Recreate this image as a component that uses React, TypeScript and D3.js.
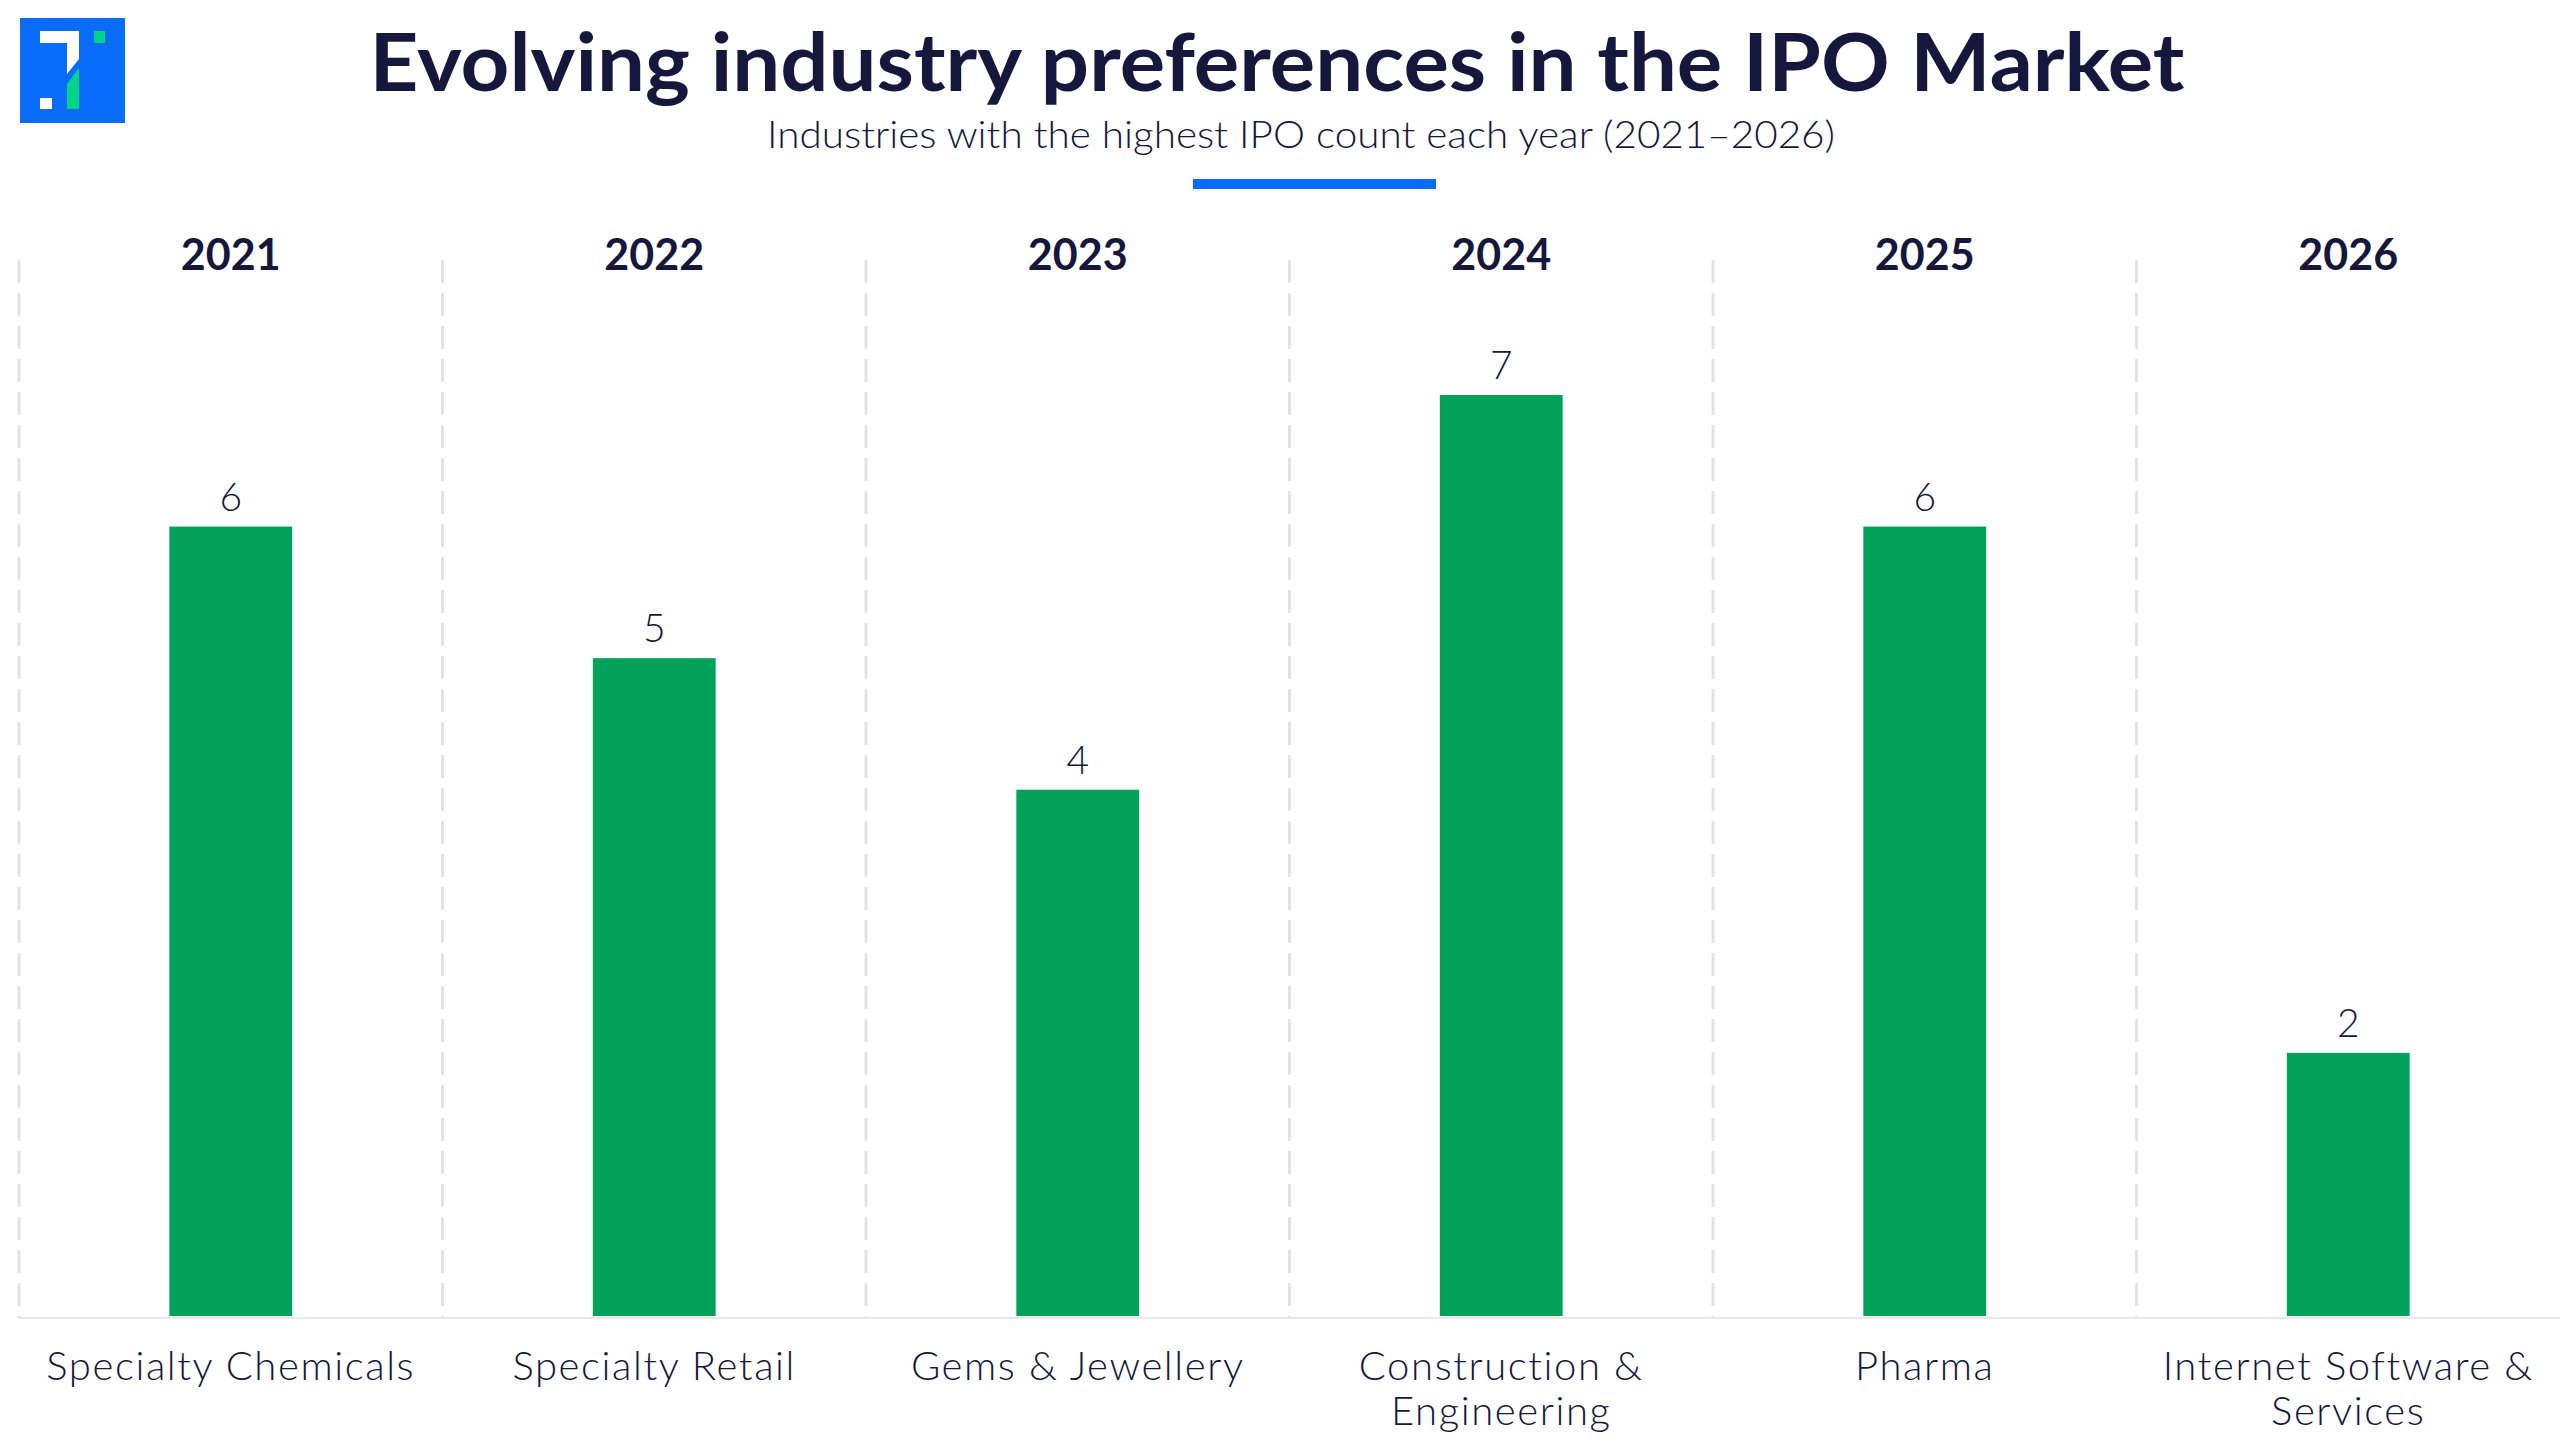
import React, { useEffect, useRef } from 'react';
import * as d3 from 'd3';

// chart data
const years = ['2021', '2022', '2023', '2024', '2025', '2026'];
const industries = [
  ['Specialty Chemicals'],
  ['Specialty Retail'],
  ['Gems & Jewellery'],
  ['Construction &', 'Engineering'],
  ['Pharma'],
  ['Internet Software &', 'Services'],
];
const ipoCounts = [6, 5, 4, 7, 6, 2];

const TITLE = 'Evolving industry preferences in the IPO Market';
const SUBTITLE = 'Industries with the highest IPO count each year (2021\u20132026)';

const NAVY = '#15173d';
const GREEN = '#02a25b';
const BLUE = '#0a6cfb';

export default function App() {
  const svgRef = useRef<SVGSVGElement>(null);

  useEffect(() => {
    if (!svgRef.current) return;
    const svg = d3.select(svgRef.current);
    svg.selectAll('*').remove();

    const W = 2560;
    const H = 1440;
    const baseY = 1316;

    svg.append('rect').attr('width', W).attr('height', H).attr('fill', '#fff');

    // logo
    const logo = svg.append('g');
    logo.append('rect').attr('x', 20).attr('y', 18).attr('width', 105).attr('height', 105).attr('fill', BLUE);
    logo.append('polygon').attr('points', '40,31 79,31 79,59 67,74 67,43 40,43').attr('fill', '#fff');
    logo.append('polygon').attr('points', '67,84 79,68 79,109 67,109').attr('fill', '#00d486');
    logo.append('rect').attr('x', 94).attr('y', 31).attr('width', 11).attr('height', 12).attr('fill', '#00d486');
    logo.append('rect').attr('x', 40).attr('y', 98).attr('width', 12).attr('height', 11).attr('fill', '#fff');

    // headings
    svg.append('text')
      .attr('x', 1277).attr('y', 91)
      .attr('text-anchor', 'middle')
      .attr('font-family', 'Lato, sans-serif')
      .attr('font-weight', 700)
      .attr('font-size', 80)
      .attr('fill', NAVY)
      .attr('textLength', 1815)
      .attr('lengthAdjust', 'spacingAndGlyphs')
      .text(TITLE);

    svg.append('text')
      .attr('x', 1301).attr('y', 148)
      .attr('text-anchor', 'middle')
      .attr('font-family', 'Lato, sans-serif')
      .attr('font-weight', 300)
      .attr('font-size', 37)
      .attr('fill', NAVY)
      .attr('textLength', 1068)
      .attr('lengthAdjust', 'spacingAndGlyphs')
      .text(SUBTITLE);

    svg.append('rect')
      .attr('x', 1193).attr('y', 179).attr('width', 243).attr('height', 10)
      .attr('fill', BLUE);

    // scales
    const x = d3.scaleBand().domain(years).range([19, W]);
    const y = d3.scaleLinear().domain([0, 7]).range([baseY, 395]);
    const barW = x.bandwidth() * 0.29;

    const g = svg.append('g');

    // dashed column separators
    g.selectAll('.sep')
      .data(years)
      .enter()
      .append('line')
      .attr('x1', d => x(d)!)
      .attr('x2', d => x(d)!)
      .attr('y1', 260)
      .attr('y2', baseY + 2)
      .attr('stroke', '#e3e3e3')
      .attr('stroke-width', 3)
      .attr('stroke-dasharray', '23 10');

    // baseline
    g.append('line')
      .attr('x1', 19).attr('x2', W)
      .attr('y1', baseY + 2).attr('y2', baseY + 2)
      .attr('stroke', '#e8e8e8')
      .attr('stroke-width', 2);

    // year headers
    g.selectAll('.year')
      .data(years)
      .enter()
      .append('text')
      .attr('x', d => x(d)! + x.bandwidth() / 2)
      .attr('y', 270)
      .attr('text-anchor', 'middle')
      .attr('font-family', 'Lato, sans-serif')
      .attr('font-weight', 700)
      .attr('font-size', 43)
      .attr('fill', NAVY)
      .text(d => d);

    // bars
    g.selectAll('.bar')
      .data(ipoCounts)
      .enter()
      .append('rect')
      .attr('x', (d, i) => x(years[i])! + (x.bandwidth() - barW) / 2)
      .attr('y', d => y(d))
      .attr('width', barW)
      .attr('height', d => baseY - y(d))
      .attr('fill', GREEN);

    // value labels
    g.selectAll('.val')
      .data(ipoCounts)
      .enter()
      .append('text')
      .attr('x', (d, i) => x(years[i])! + x.bandwidth() / 2)
      .attr('y', d => y(d) - 16)
      .attr('text-anchor', 'middle')
      .attr('font-family', 'Lato, sans-serif')
      .attr('font-weight', 300)
      .attr('font-size', 39)
      .attr('fill', NAVY)
      .text(d => d);

    // industry labels
    const cat = g.selectAll('.cat')
      .data(industries)
      .enter()
      .append('text')
      .attr('text-anchor', 'middle')
      .attr('font-family', 'Lato, sans-serif')
      .attr('font-weight', 300)
      .attr('font-size', 40)
      .attr('letter-spacing', 1.6)
      .attr('fill', NAVY);

    cat.selectAll('tspan')
      .data((d, i) => d.map(line => ({ line, i })))
      .enter()
      .append('tspan')
      .attr('x', d => x(years[d.i])! + x.bandwidth() / 2)
      .attr('y', (d, j) => 1380 + j * 45)
      .text(d => d.line);
  }, []);

  return (
    <svg
      ref={svgRef}
      width={2560}
      height={1440}
      style={{ position: 'absolute', left: 0, top: 0, display: 'block' }}
    />
  );
}
